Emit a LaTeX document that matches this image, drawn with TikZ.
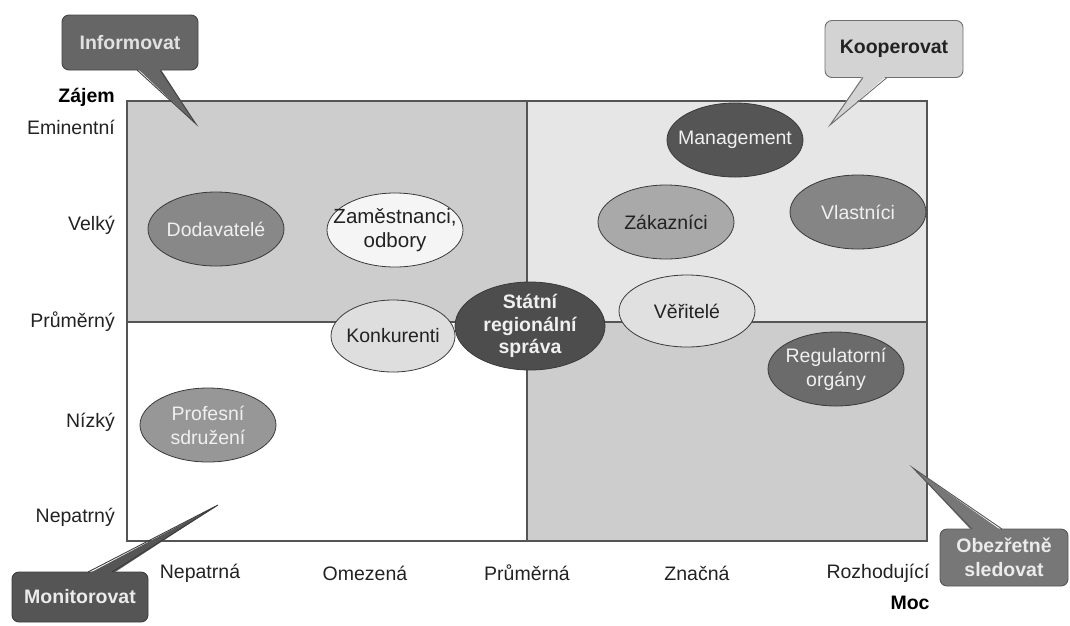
\documentclass[tikz,border=0pt]{standalone}
\usepackage{fontspec}
\setmainfont{Liberation Sans}
\usetikzlibrary{shapes.geometric,calc}
\definecolor{qdark}{HTML}{CDCDCD}
\definecolor{qlight}{HTML}{E6E6E6}
\definecolor{gridline}{HTML}{555555}
\definecolor{ellline}{HTML}{3A3A3A}
\definecolor{txtdark}{HTML}{222222}
\definecolor{txtlight}{HTML}{F0F0F0}
\definecolor{cdod}{HTML}{888888}
\definecolor{czam}{HTML}{F5F5F5}
\definecolor{ckon}{HTML}{DEDEDE}
\definecolor{cvla}{HTML}{858585}
\definecolor{czak}{HTML}{A9A9A9}
\definecolor{cman}{HTML}{555555}
\definecolor{cver}{HTML}{E0E0E0}
\definecolor{csta}{HTML}{4D4D4D}
\definecolor{creg}{HTML}{6B6B6B}
\definecolor{cpro}{HTML}{979797}
\definecolor{infofill}{HTML}{666666}
\definecolor{infoline}{HTML}{444444}
\definecolor{infotext}{HTML}{E1E1E1}
\definecolor{koofill}{HTML}{D3D3D3}
\definecolor{kooline}{HTML}{6E6E6E}
\definecolor{monfill}{HTML}{555555}
\definecolor{monline}{HTML}{3C3C3C}
\definecolor{obefill}{HTML}{777777}
\definecolor{obeline}{HTML}{555555}
\definecolor{calltext}{HTML}{EBEBEB}
\newcommand\dsz{\fontsize{19.5}{24}\selectfont}
\newcommand\dszb{\fontsize{20.5}{24}\selectfont}
\tikzset{
  stake/.style={ellipse, draw=ellline, line width=0.8pt, inner xsep=-25pt, inner ysep=-14pt, align=center, font=\dsz, minimum width=136pt, minimum height=74pt},
  lighttxt/.style={text=txtlight},
  darktxt/.style={text=txtdark},
  axlbl/.style={font=\dsz, text=txtdark, inner sep=0pt},
  axtitle/.style={font=\dsz\bfseries, text=black, inner sep=0pt},
  callout/.style={rounded corners=7pt, line width=0.9pt, align=center, font=\dsz\bfseries, inner sep=0pt},
  quad/.style={draw=gridline, line width=1.3pt}
}
\begin{document}
\begin{tikzpicture}[x=1pt,y=-1pt]
\useasboundingbox (0,0) rectangle (1070,625);
% quadrants
\fill[qdark] (127,101) rectangle (527,322);
\fill[qlight] (527,101) rectangle (927,322);
\fill[white] (127,322) rectangle (527,541);
\fill[qdark] (527,322) rectangle (927,541);
\draw[quad] (127,101) rectangle (927,541);
\draw[quad] (127,322) -- (927,322);
\draw[quad] (527,101) -- (527,541);
% axis labels
\node[axtitle, anchor=east] (zajem) at (115,97) {Zájem};
\node[axlbl, anchor=east] (y1) at (115,127) {Eminentní};
\node[axlbl, anchor=east] (y2) at (115,225) {Velký};
\node[axlbl, anchor=east] (y3) at (115,322) {Průměrný};
\node[axlbl, anchor=east] (y4) at (115,422) {Nízký};
\node[axlbl, anchor=east] (y5) at (115,517) {Nepatrný};
\node[axlbl] (x1) at (200,573) {Nepatrná};
\node[axlbl] (x2) at (365,573) {Omezená};
\node[axlbl] (x3) at (527,573) {Průměrná};
\node[axlbl] (x4) at (697,573) {Značná};
\node[axlbl] (x5) at (878,573) {Rozhodující};
\node[axtitle] (moc) at (910,603) {Moc};
% stakeholders
\node[stake, lighttxt, fill=cdod] (dod) at (216,229) {Dodavatelé};
\node[stake, darktxt, fill=czam, font=\dszb] (zam) at (395,230) {Zaměstnanci,\\odbory};
\node[stake, darktxt, fill=ckon, minimum width=124pt, minimum height=72pt] (kon) at (393,336) {Konkurenti};
\node[stake, lighttxt, fill=cvla] (vla) at (858,212) {Vlastníci};
\node[stake, darktxt, fill=czak] (zak) at (666,222) {Zákazníci};
\node[stake, lighttxt, fill=cman] (man) at (735,140) {Management};
\node[stake, darktxt, fill=cver, minimum height=72pt] (ver) at (687,311) {Věřitelé};
\node[stake, lighttxt, fill=csta, minimum width=150pt, minimum height=88pt, font={\fontsize{19.5}{22.5}\selectfont\bfseries}] (sta) at (530,326) {Státní\\regionální\\správa};
\node[stake, lighttxt, fill=creg] (reg) at (836,369) {Regulatorní\\orgány};
\node[stake, lighttxt, fill=cpro] (pro) at (208,425) {Profesní\\sdružení};
% callouts
% Informovat
\node[callout, fill=infofill, draw=infoline, text=infotext, minimum width=136pt, minimum height=55pt] (inf) at (130,42.5) {Informovat};
\coordinate (inftip) at (196,124);
\coordinate (infa) at (137,70);
\coordinate (infb) at (160,70);
\fill[infofill] ($(infa)+(0,-2)$) -- (inftip) -- ($(infb)+(0,-2)$) -- cycle;
\draw[infoline, line width=0.9pt] (infa) -- (inftip) -- (infb);
% Kooperovat
\node[callout, fill=koofill, draw=kooline, text=txtdark, minimum width=138pt, minimum height=57pt] (koo) at (894,49) {Kooperovat};
\coordinate (kootip) at (830,125);
\coordinate (kooa) at (863,77.5);
\coordinate (koob) at (887,77.5);
\fill[koofill] ($(kooa)+(0,-2)$) -- (kootip) -- ($(koob)+(0,-2)$) -- cycle;
\draw[kooline, line width=0.9pt] (kooa) -- (kootip) -- (koob);
% Monitorovat
\node[callout, fill=monfill, draw=monline, text=calltext, minimum width=136pt, minimum height=50pt] (mon) at (80,597) {Monitorovat};
\coordinate (montip) at (218,505);
\coordinate (mona) at (88,572);
\coordinate (monb) at (112,572);
\fill[monfill] ($(mona)+(0,2)$) -- (montip) -- ($(monb)+(0,2)$) -- cycle;
\draw[monline, line width=0.9pt] (mona) -- (montip) -- (monb);
% Obezretne sledovat
\node[callout, fill=obefill, draw=obeline, text=calltext, minimum width=128pt, minimum height=57pt] (obe) at (1004,557.5) {Obezřetně\\sledovat};
\coordinate (obetip) at (913,468);
\coordinate (obea) at (972,529);
\coordinate (obeb) at (1002,529);
\fill[obefill] ($(obea)+(0,2)$) -- (obetip) -- ($(obeb)+(0,2)$) -- cycle;
\draw[obeline, line width=0.9pt] (obea) -- (obetip) -- (obeb);
\end{tikzpicture}
\end{document}
